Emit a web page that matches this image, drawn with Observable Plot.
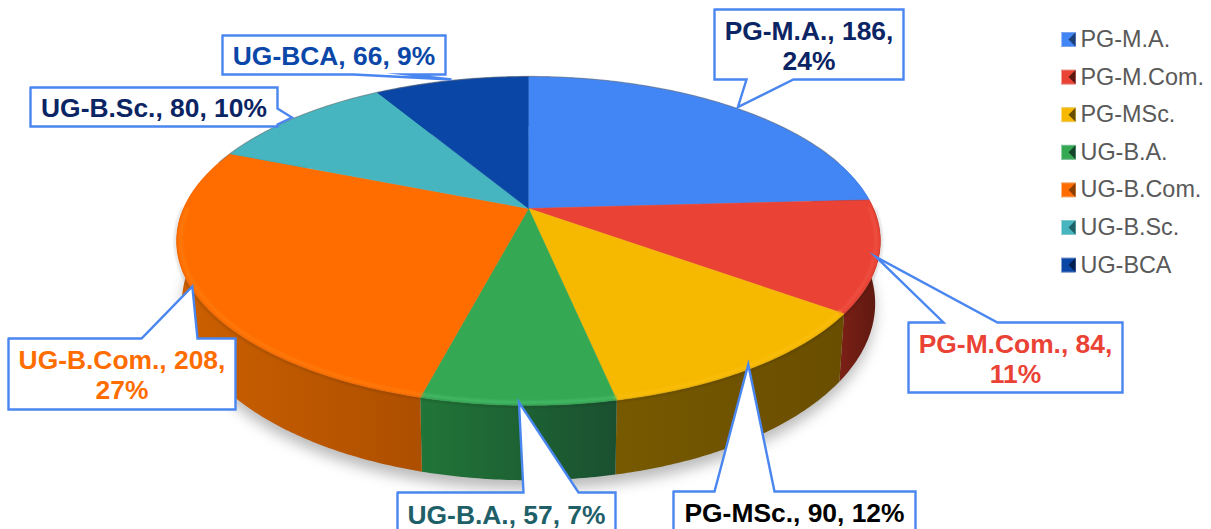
<!DOCTYPE html>
<html><head><meta charset="utf-8">
<style>html,body{margin:0;padding:0;background:#fff;overflow:hidden}svg{display:block}</style>
<script src="https://cdn.jsdelivr.net/npm/d3@7"></script>
<script src="https://cdn.jsdelivr.net/npm/@observablehq/plot@0.6"></script>
</head><body><div id="chart"></div>
<script>
// ---- data ----
const categories = ["PG-M.A.", "PG-M.Com.", "PG-MSc.", "UG-B.A.", "UG-B.Com.", "UG-B.Sc.", "UG-BCA"];
const counts = [186, 84, 90, 57, 208, 80, 66];
const percents = [24, 11, 12, 7, 27, 10, 9];
const wrapped = [true, true, false, false, true, false, false];

// ---- styles ----
const topColors = ["#4285f4", "#ea4335", "#f7b900", "#34a853", "#ff6d01", "#46b5c0", "#0a46a6"];
const rimColors = ["#5a95f6", "#f05548", "#fac010", "#4cc070", "#ff8010", "#5cc5cf", "#2a5fba"];
const sideLeft = ["#2a569f", "#7c2016", "#775900", "#217538", "#cc6000", "#2d757c", "#062a66"];
const sideRight = ["#1d3f78", "#5c1810", "#6a4e00", "#1a5030", "#ad4f00", "#2d757c", "#062a66"];
const labelColors = ["#0b2463", "#ea4335", "#000000", "#1f6068", "#ff6d01", "#0b2463", "#0b47a8"];
const swatchDark = ["#1d3f78", "#5c1810", "#6a4e00", "#14452a", "#8a3f00", "#1f5f66", "#041f4f"];
const swatchLight = ["#7aa5ee", "#e28078", "#e8c860", "#70b88c", "#f0a060", "#80c8ce", "#6080c0"];

// ---- layout (page pixels) ----
const W = 1211, H = 529;
const cx = 528, cy = 208, ax = 345, ay = 158, tilt = 0.1975, dropY = 0.38, shrink = 0.015;
const toX = p => (p - cx) / ax, toY = p => (cy - p) / ay;
const boxes = [
  {x0: 714, y0: 9, x1: 903, y1: 79, side: "bottom", b0: 746, b1: 793, ty: 45, nudge: [2, -1]},
  {x0: 908, y0: 322, x1: 1122, y1: 392, side: "top", b0: 943, b1: 997, ty: 358, nudge: [-3, 1]},
  {x0: 673, y0: 491, x1: 915, y1: 532, side: "top", b0: 714, b1: 774, ty: 512, nudge: [-5, -3]},
  {x0: 397, y0: 492, x1: 615, y1: 532, side: "top", b0: 523, b1: 578, ty: 514, nudge: [1, -3]},
  {x0: 8, y0: 338, x1: 235, y1: 409, side: "top", b0: 141, b1: 197, ty: 374, nudge: [2, 0]},
  {x0: 30, y0: 87, x1: 277, y1: 126, side: "right", b0: 108, b1: 124, ty: 107, nudge: [-4, 0]},
  {x0: 222, y0: 35, x1: 445, y1: 74, side: "bottom", b0: 353, b1: 407, ty: 55, nudge: [0, -1]}
];
const legendX = 1061, legendSize = 14, legendText = 1080, legendTop = 39, legendStep = 37.6;

// ---- projection of the pie's disc to the tilted picture plane ----
const proj = (a, r = 1, drop = 0) => {
  const u = r * Math.sin(a), v = r * Math.cos(a), d = 1 + tilt * v;
  return {x: (u / d) * (1 - shrink * drop), y: v / d - (drop * dropY) / d};
};
const arc = (a0, a1, r = 1, drop = 0) => {
  const n = Math.max(2, Math.ceil(Math.abs(a1 - a0) / 0.01));
  return d3.range(n + 1).map(i => proj(a0 + ((a1 - a0) * i) / n, r, drop));
};
const slices = d3.pie().sort(null).startAngle(0).endAngle(2 * Math.PI)(counts);
const XY = {x: "x", y: "y"};
const blur = s => (index, scales, values, dims, ctx, next) => {
  const g = next(index, scales, values, dims, ctx);
  g.style.filter = `blur(${s}px)`;
  return g;
};

const defs = () => {
  const d = d3.create("svg:defs");
  categories.forEach((c, i) => {
    const g = d.append("linearGradient").attr("id", "side" + i);
    g.append("stop").attr("offset", 0).attr("stop-color", sideLeft[i]);
    g.append("stop").attr("offset", 1).attr("stop-color", sideRight[i]);
  });
  return d.node();
};

const marks = [defs];

// shadow under the body
marks.push(Plot.line(arc(0, 2 * Math.PI, 1, 1.12), {...XY, fill: "#000", fillOpacity: 0.27, stroke: "none", render: blur(7)}));

// side walls
slices.forEach((s, i) => {
  const pts = [...arc(s.startAngle, s.endAngle), ...arc(s.endAngle, s.startAngle, 1, 1)];
  marks.push(Plot.line(pts, {...XY, fill: `url(#side${i})`, stroke: "none"}));
});

// top faces
slices.forEach((s, i) => {
  const pts = [proj(0, 0), ...arc(s.startAngle, s.endAngle)];
  marks.push(Plot.line(pts, {...XY, fill: topColors[i], stroke: topColors[i], strokeWidth: 0.5}));
});

// soft seam between the top and the wall, and bevelled rim
const front0 = Math.PI * 0.5, front1 = Math.PI * 1.5;
marks.push(Plot.line(arc(front0, front1, 1.004), {...XY, stroke: "#000", strokeOpacity: 0.14, strokeWidth: 2, render: blur(1)}));
slices.forEach((s, i) => {
  const a0 = Math.max(s.startAngle, front0), a1 = Math.min(s.endAngle, front1);
  if (a1 > a0) marks.push(Plot.line(arc(a0, a1, 0.988), {...XY, stroke: rimColors[i], strokeWidth: 3.5, strokeOpacity: 0.6, render: blur(1.3)}));
});
// thin grey back edge
marks.push(Plot.line(arc(-Math.PI * 0.4, Math.PI * 0.4, 1.001), {...XY, stroke: "#777", strokeOpacity: 0.5, strokeWidth: 1.2, render: blur(0.5)}));

// callouts: pointer tip sits on the rim at each slice's middle angle
slices.forEach((s, i) => {
  const b = boxes[i];
  const mid = proj((s.startAngle + s.endAngle) / 2);
  const tip = {x: mid.x + b.nudge[0] / ax, y: mid.y - b.nudge[1] / ay};
  const P = (x, y) => ({x: toX(x), y: toY(y)});
  let pts;
  if (b.side === "top") pts = [P(b.x0, b.y0), P(b.b0, b.y0), tip, P(b.b1, b.y0), P(b.x1, b.y0), P(b.x1, b.y1), P(b.x0, b.y1), P(b.x0, b.y0)];
  else if (b.side === "bottom") pts = [P(b.x0, b.y0), P(b.x1, b.y0), P(b.x1, b.y1), P(b.b1, b.y1), tip, P(b.b0, b.y1), P(b.x0, b.y1), P(b.x0, b.y0)];
  else pts = [P(b.x0, b.y0), P(b.x1, b.y0), P(b.x1, b.b0), tip, P(b.x1, b.b1), P(b.x1, b.y1), P(b.x0, b.y1), P(b.x0, b.y0)];
  marks.push(Plot.line(pts, {...XY, fill: "#fff", stroke: "#4a86f0", strokeWidth: 2.4, strokeLinejoin: "miter", strokeMiterlimit: 20}));
  const sep = wrapped[i] ? "\n" : " ";
  marks.push(Plot.text([`${categories[i]}, ${counts[i]},${sep}${percents[i]}%`], {
    x: toX((b.x0 + b.x1) / 2), y: toY(b.ty), text: d => d,
    fontFamily: "Liberation Sans, Arial, sans-serif", fontWeight: "bold", fontSize: 26.4,
    lineHeight: 1.15, fill: labelColors[i], textAnchor: "middle"
  }));
});

// legend
categories.forEach((c, i) => {
  const yc = legendTop + i * legendStep, h = legendSize / 2;
  const x0 = toX(legendX), x1 = toX(legendX + legendSize), xm = toX(legendX + h);
  const y0 = toY(yc - h), y1 = toY(yc + h), ym = toY(yc);
  marks.push(Plot.line([{x: x0, y: y0}, {x: x1, y: y0}, {x: x1, y: y1}, {x: x0, y: y1}], {...XY, fill: topColors[i], stroke: swatchLight[i], strokeWidth: 1}));
  marks.push(Plot.line([{x: x1, y: y0}, {x: xm, y: ym}, {x: x1, y: y1}], {...XY, fill: swatchDark[i], stroke: "none"}));
  marks.push(Plot.text([c], {x: toX(legendText), y: ym, text: d => d, textAnchor: "start",
    fontFamily: "Liberation Sans, Arial, sans-serif", fontSize: 23.4, fill: "#595959"}));
});

const fig = Plot.plot({
  width: W, height: H, margin: 0, style: {background: "#fff"},
  x: {type: "linear", domain: [toX(0), toX(W)], range: [0, W], axis: null},
  y: {type: "linear", domain: [toY(0), toY(H)], range: [0, H], axis: null},
  marks
});
document.getElementById("chart").append(fig);
</script></body></html>
